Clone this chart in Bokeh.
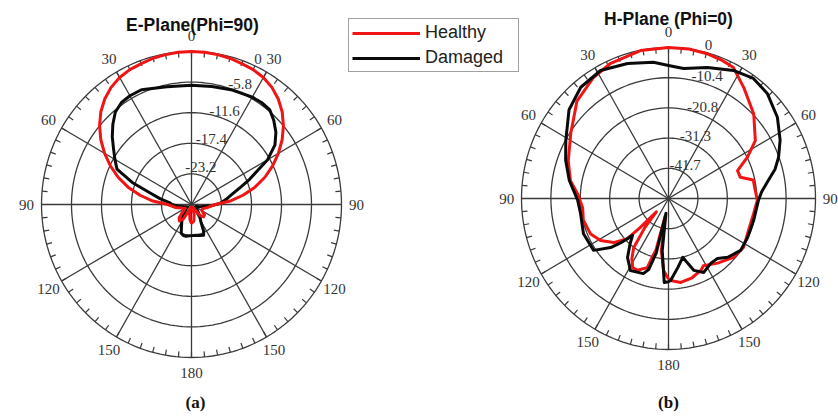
import numpy as np
from bokeh.plotting import figure
from bokeh.models import Range1d, Legend, LegendItem
from bokeh.core.properties import value
from bokeh.embed import file_html
from bokeh.resources import INLINE

# ---- radiation pattern data (angle in degrees, clockwise from boresight; gain in dB) ----
e_healthy_deg = [-180, -174, -168, -162, -156, -150, -143, -137, -130, -120, -110, -100,
                 -90, -85, -80, -75, -70, -65, -60, -55, -50, -45, -40, -35, -30, -25, -20, -15, -10, -5,
                 0, 5, 10, 15, 20, 25, 30, 35, 40, 45, 50, 55, 60, 65, 70, 75, 80, 85, 90,
                 100, 110, 120, 128, 135, 142, 150, 158, 165, 172, 180]
e_healthy_db = [-25.4, -26.1, -27.3, -28.4, -27.6, -25.8, -25.1, -25.5, -26.7, -27.6, -27.0, -25.8,
                -24.4, -21.5, -18.9, -16.3, -13.9, -11.7, -9.6, -7.6, -5.8, -4.2, -2.9, -1.9, -1.2, -0.8, -0.6, -0.3, -0.15, -0.03,
                0.0, -0.03, -0.15, -0.3, -0.6, -0.8, -1.2, -1.9, -2.9, -4.2, -5.8, -7.6, -9.6, -11.7, -13.9, -16.3, -18.9, -21.5, -24.4,
                -25.8, -26.7, -26.7, -25.8, -25.7, -26.4, -28.1, -28.4, -27.0, -25.8, -25.4]

e_damaged_deg = [-180, -170, -165, -160, -155, -148, -140, -130, -120, -110, -100, -90, -85, -80,
                 -75, -70, -65, -60, -55, -50, -45, -40, -35, -30, -24, -12, 0, 10, 20, 30, 35, 40, 45, 50, 55,
                 60, 63, 67, 71, 76, 82, 88, 95, 105, 115, 125, 135, 145, 150, 155, 158, 165, 172, 180]
e_damaged_db = [-23.1, -22.9, -22.9, -23.2, -24.4, -25.5, -26.7, -27.6, -28.1, -27.8, -26.7, -25.2, -24.7, -22.9,
                -20.9, -16.8, -13.1, -11.9, -10.6, -9.0, -7.5, -6.1, -5.4, -5.2, -5.2, -6.2, -6.4, -6.3, -5.9, -5.5, -5.4, -5.5, -6.5, -7.7, -9.3,
                -12.0, -14.5, -16.8, -19.0, -20.9, -22.3, -23.5, -25.5, -27.3, -28.1, -28.1, -27.3, -26.1, -25.5, -23.5, -22.7,
                -22.9, -23.1, -23.1]

h_healthy_deg = [-180, -176, -172, -169, -166, -164, -162.5, -156, -152, -148, -144, -140, -137, -135,
                 -133.5, -128, -121, -114, -104, -96, -87, -80, -70, -57, -44, -32.5, -24, -11, 0, 8,
                 15, 22, 27, 35, 46, 57, 63, 68.5, 74, 78, 85, 91, 100, 111, 122.5, 131.5, 142, 152,
                 155, 163, 171.5, 178.5, 180]
h_healthy_db = [-24.3, -27.2, -33.9, -45.8, -33.9, -30.9, -27.1, -25.0, -25.1, -27.6, -31.1, -39.1, -45.8, -38.0,
                -32.0, -27.4, -24.0, -21.9, -21.0, -21.5, -19.8, -16.8, -14.3, -10.8, -5.4, -2.6, -1.2, -0.1, 0.0, 0.0,
                -0.3, -0.8, -1.4, -5.5, -10.1, -15.4, -20.7, -25.8, -25.6, -21.4, -21.2, -20.6, -21.5, -21.7, -20.6, -21.4,
                -23.8, -25.8, -24.8, -23.5, -22.8, -23.8, -24.3]

h_damaged_deg = [-180, -177, -173, -170, -167, -164, -161, -151.5, -144.5, -139, -135, -132, -129.5, -124,
                 -112, -99, -91, -80, -70, -61, -49, -39, -28.6, -17.3, -6.5, 0, 6.8, 17, 27.5, 36, 44,
                 54, 63, 70, 75, 80, 86, 91, 104, 116, 125, 134, 140, 146, 154, 160, 163, 166, 172,
                 178.5, 180]
h_damaged_db = [-23.4, -23.1, -33.9, -46.9, -32.8, -26.6, -24.7, -23.8, -27.1, -31.3, -34.1, -29.2, -25.5, -20.1,
                -19.6, -20.5, -19.9, -16.4, -13.3, -10.5, -5.4, -2.7, -1.8, -3.3, -4.8, -6.2, -6.9, -4.8, -2.3, -0.9, -1.7,
                -4.4, -7.7, -10.6, -13.0, -16.2, -19.0, -20.2, -21.0, -21.0, -20.9, -22.9, -25.1, -25.2, -23.7, -25.7,
                -28.7, -31.2, -28.1, -23.8, -23.4]

# ---- axis annotations ----
e_ring_labels = ["0", "-5.8", "-11.6", "-17.4", "-23.2"]
e_floor_db = -29.0
h_ring_labels = ["0", "-10.4", "-20.8", "-31.3", "-41.7"]
h_floor_db = -52.1
angle_labels = ["0", "30", "60", "90", "120", "150", "180", "150", "120", "90", "60", "30"]
titles = ["E-Plane(Phi=90)", "H-Plane (Phi=0)"]
captions = ["(a)", "(b)"]
series_names = ["Healthy", "Damaged"]

W, H = 838, 418
RED = "#f01414"
BLACK = "#0a0a0a"
GRID = "#3a3a3a"
SERIF = "Liberation Serif"
SANS = "Liberation Sans"

p = figure(width=W, height=H, x_range=Range1d(0, W), y_range=Range1d(0, H),
           output_backend="svg", toolbar_location=None,
           x_axis_type=None, y_axis_type=None, min_border=0)
p.outline_line_color = None
p.background_fill_color = "white"
p.border_fill_color = "white"


class PolarFrame:
    """Polar axes placed on the canvas; positions are given in pixels from the top-left."""

    def __init__(self, cx, cy, rx, ry, floor_db):
        self.cx, self.cy, self.rx, self.ry = cx, cy, rx, ry
        self.floor = floor_db

    def xy(self, rn, deg):
        a = np.radians(np.asarray(deg, dtype=float))
        rn = np.asarray(rn, dtype=float)
        x = self.cx + self.rx * rn * np.sin(a)
        y = self.cy - self.ry * rn * np.cos(a)
        return x, H - y

    def db_xy(self, deg, db):
        rn = np.clip(1.0 - np.asarray(db, dtype=float) / self.floor, 0.0, 1.0)
        return self.xy(rn, deg)

    def draw_grid(self):
        circle_deg = np.arange(0, 361, 2)
        xs, ys = [], []
        for k in range(1, 6):
            x, y = self.xy(np.full(circle_deg.shape, k / 5), circle_deg)
            xs.append(x)
            ys.append(y)
        p.multi_line(xs, ys, line_color=GRID, line_width=1.3)

        spokes = np.arange(0, 180, 30)
        x0, y0 = self.xy(np.ones(spokes.shape), spokes + 180)
        x1, y1 = self.xy(np.ones(spokes.shape), spokes)
        p.segment(x0, y0, x1, y1, line_color=GRID, line_width=1.3)

        ticks = np.arange(0, 360, 5)
        tx0, ty0 = self.xy(np.ones(ticks.shape), ticks)
        tx1, ty1 = self.xy(np.full(ticks.shape, 1 - 5.5 / self.rx), ticks)
        p.segment(tx0, ty0, tx1, ty1, line_color=GRID, line_width=1.2)

        label_deg = np.arange(0, 360, 30)
        lx, ly = self.xy(np.full(label_deg.shape, 1.1), label_deg)
        p.text(lx, ly, text=angle_labels, text_font=value(SERIF), text_font_size="15px",
               text_color="#333333", text_align="center", text_baseline="middle")

    def draw_ring_labels(self, labels, ang_fn):
        fr = np.array([1.0, 0.8, 0.6, 0.4, 0.2])
        x, y = self.xy(fr + 0.05, ang_fn(fr))
        p.text(x, y, text=labels, text_font=value(SERIF), text_font_size="15px",
               text_color="#333333", text_align="center", text_baseline="middle")


left = PolarFrame(191, 204, 150, 153, e_floor_db)
right = PolarFrame(668, 198, 147, 151, h_floor_db)

left.draw_grid()
right.draw_grid()

# E-plane curves
x, y = left.db_xy(e_damaged_deg, e_damaged_db)
p.line(x, y, line_color=BLACK, line_width=3, line_join="round")
x, y = left.db_xy(e_healthy_deg, e_healthy_db)
p.line(x, y, line_color=RED, line_width=3, line_join="round")

# H-plane curves
x, y = right.db_xy(h_healthy_deg, h_healthy_db)
r_healthy = p.line(x, y, line_color=RED, line_width=3, line_join="round")
x, y = right.db_xy(h_damaged_deg, h_damaged_db)
r_damaged = p.line(x, y, line_color=BLACK, line_width=3, line_join="round")

left.draw_ring_labels(e_ring_labels, lambda f: 12 + 13 * f)
right.draw_ring_labels(h_ring_labels, lambda f: 30 - 15 * f)

# titles and panel captions
p.text([192, 668], [H - 24, H - 18], text=titles, text_font=value(SANS), text_font_size="17.5px",
       text_font_style="bold", text_color="#111111", text_align="center", text_baseline="middle")
p.text([195, 668], [H - 402, H - 402], text=captions, text_font=value(SERIF), text_font_size="17px",
       text_font_style="bold", text_color="#111111", text_align="center", text_baseline="middle")

legend = Legend(items=[LegendItem(label=series_names[0], renderers=[r_healthy]),
                       LegendItem(label=series_names[1], renderers=[r_damaged])],
                location=(348, H - 72), orientation="vertical",
                label_text_font=SANS, label_text_font_size="18px", label_text_color="#222222",
                glyph_width=68, glyph_height=20, label_height=20, label_width=90,
                spacing=4, padding=3, margin=0, label_standoff=5,
                border_line_color="#444444", border_line_width=1,
                background_fill_color="white", background_fill_alpha=1.0)
p.add_layout(legend)

open("out.html", "w").write(file_html(p, INLINE))
